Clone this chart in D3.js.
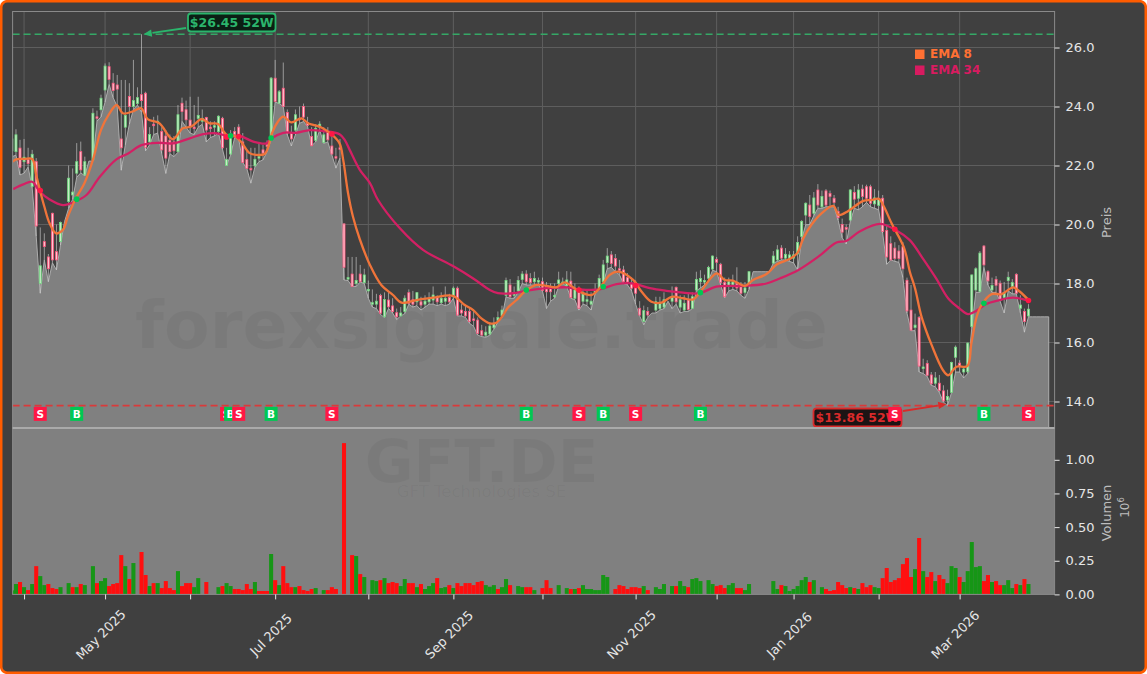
<!DOCTYPE html>
<html><head><meta charset="utf-8">
<script src="https://cdn.jsdelivr.net/npm/d3@7/dist/d3.min.js"></script>
<style>html,body{margin:0;padding:0;background:#fff;overflow:hidden}svg{display:block;font-family:"DejaVu Sans",sans-serif}</style>
</head><body><div id="c"></div>
<script>
// every series starts at bar -1 (clipped at the left edge of the plot)
const opens = [
22.5,22.47,22.59,22.13,22.2,21.29,22.13,18.0,19.42,18.9,
20.38,19.08,19.42,20.1,20.78,21.0,21.74,22.47,21.68,22.15,
22.19,23.65,23.89,24.56,25.35,24.79,24.73,22.9,23.3,24.34,
24.0,24.1,24.4,24.45,22.8,23.4,23.45,23.15,23.0,22.85,
22.8,22.47,24.11,23.89,23.54,23.3,23.6,23.5,23.63,23.3,
23.3,23.15,23.6,22.0,22.39,23.15,23.3,22.8,22.2,21.9,
21.99,22.25,22.53,22.7,22.92,24.96,24.11,24.62,23.8,23.1,
23.2,23.6,24.0,23.45,22.98,22.85,23.3,22.78,23.12,22.66,
22.3,22.6,20.02,18.2,18.32,18.0,18.32,18.03,17.75,17.3,
17.3,17.59,16.87,17.44,17.24,17.01,16.9,17.05,17.69,17.45,
17.38,17.38,17.3,17.38,17.44,17.53,17.35,17.4,17.53,17.55,
17.84,17.1,17.05,17.05,16.8,16.76,16.4,16.25,16.29,16.5,
16.75,16.9,17.6,17.95,17.6,17.75,18.14,18.32,18.17,18.06,
18.1,18.06,17.91,17.87,17.6,18.0,18.05,17.92,18.08,17.5,
17.72,17.4,17.4,17.3,17.7,17.84,18.06,18.71,18.97,18.85,
18.5,18.46,18.2,18.0,17.97,17.16,16.71,17.05,17.0,17.1,
17.15,17.2,17.4,17.4,17.87,17.2,17.1,17.44,17.16,17.78,
18.06,18.05,18.18,18.49,18.82,18.65,18.04,17.9,17.95,18.0,
17.95,17.7,18.0,18.4,18.4,18.4,18.4,18.4,18.69,18.8,
19.2,18.86,18.86,18.86,19.0,19.59,20.32,20.66,20.38,21.17,
20.6,21.14,21.05,20.89,20.44,20.0,19.9,20.15,21.09,20.89,
21.2,21.28,21.28,20.7,20.65,20.89,19.8,19.35,19.2,19.1,
19.25,18.11,17.1,16.51,16.85,15.12,15.29,14.9,14.62,14.62,
14.36,14.05,14.31,15.5,15.3,15.0,15.01,16.54,17.78,17.73,
19.27,18.4,17.78,18.14,18.01,17.53,18.1,17.9,18.31,17.16,
17.05,16.9];
const highs = [
23.0,23.23,22.87,22.9,22.6,22.53,22.25,19.9,19.7,19.0,
20.4,20.0,20.1,20.1,22.0,21.9,22.76,22.81,22.3,22.15,
23.94,23.86,24.4,25.46,25.5,25.13,25.07,24.9,24.9,24.79,
25.58,24.65,26.45,24.5,23.3,23.65,23.7,23.3,23.2,23.05,
23.0,24.05,24.3,24.2,24.33,24.05,24.33,23.9,23.65,23.5,
23.5,23.7,23.65,22.6,23.2,23.3,23.4,23.1,22.5,22.6,
22.6,22.75,22.7,22.85,25.0,25.58,24.56,25.49,23.9,23.35,
23.9,24.0,24.1,23.65,23.3,23.4,23.5,23.3,23.3,23.1,
22.6,22.9,20.05,18.9,18.9,18.9,18.63,18.5,18.1,17.8,
17.65,17.65,17.7,17.7,17.5,17.15,17.2,17.6,17.8,17.75,
17.7,17.55,17.6,17.7,17.9,17.6,17.7,17.9,17.65,17.9,
17.9,17.3,17.25,17.2,17.1,16.85,16.6,16.55,16.65,16.85,
17.05,17.25,18.2,18.15,17.9,18.25,18.42,18.45,18.35,18.4,
18.2,18.2,18.05,18.0,18.0,18.4,18.2,18.42,18.4,18.0,
17.9,17.8,17.75,17.7,18.0,18.3,18.8,19.2,19.1,19.0,
18.8,18.6,18.35,18.2,18.1,17.4,17.25,17.2,17.0,17.55,
17.55,17.7,17.4,17.9,17.9,17.6,17.6,17.65,17.7,18.4,
18.45,18.3,18.6,18.95,18.9,18.7,18.2,18.2,18.3,18.55,
18.05,18.05,18.4,18.4,18.4,18.4,18.4,18.4,19.1,19.3,
19.3,19.2,19.1,19.1,19.6,20.15,20.75,21.0,21.1,21.37,
21.15,21.2,21.15,21.0,20.6,20.2,20.0,21.2,21.3,21.37,
21.35,21.35,21.35,21.2,21.15,21.0,19.95,19.6,19.4,19.3,
19.4,18.2,17.95,16.98,16.9,15.45,15.4,15.0,15.0,14.9,
14.55,14.4,15.35,15.9,15.4,15.2,16.0,18.3,18.55,19.1,
19.3,18.45,18.2,18.25,18.1,18.05,18.4,18.15,18.35,17.6,
17.15,17.3];
const lows = [
22.3,22.35,21.68,21.74,21.95,21.25,19.6,17.67,18.8,18.06,
18.7,18.46,19.3,20.1,20.55,20.85,21.6,21.75,21.65,22.15,
22.15,23.5,23.65,24.15,24.75,24.3,24.0,21.84,22.7,23.4,
23.9,24.05,23.8,22.5,22.7,23.05,23.1,22.4,21.73,22.4,
22.3,22.45,23.5,23.3,23.1,23.05,23.3,23.4,22.8,22.95,
23.0,23.1,22.55,22.0,22.35,22.95,22.9,22.1,21.9,21.4,
21.95,22.13,22.19,22.47,22.87,24.15,24.1,24.0,23.04,22.66,
23.04,23.43,23.49,23.32,22.67,22.8,23.2,22.75,22.8,22.36,
21.91,22.25,18.12,18.1,17.9,17.9,18.05,18.0,17.5,17.2,
17.15,16.95,16.85,17.15,17.0,16.78,16.9,16.98,17.3,17.2,
17.25,17.1,17.2,17.3,17.3,17.25,17.3,17.25,17.3,17.5,
16.9,16.9,16.85,16.65,16.55,16.25,16.2,16.18,16.25,16.45,
16.7,16.85,17.55,17.5,17.5,17.7,18.0,17.95,17.95,17.95,
17.95,17.75,17.15,17.4,17.5,17.9,18.0,17.9,17.5,17.45,
17.1,17.3,17.25,17.1,17.65,17.8,18.0,18.5,18.55,18.4,
18.3,18.0,17.95,17.75,17.3,16.9,16.6,16.85,17.0,17.0,
17.1,17.15,17.4,17.15,17.3,17.0,17.05,17.05,17.15,17.75,
17.85,17.95,18.1,18.45,18.4,17.95,17.52,17.75,17.8,17.75,
17.6,17.5,17.8,18.4,18.4,18.4,18.4,18.4,18.69,18.75,
18.8,18.8,18.75,18.7,18.46,19.5,19.99,20.0,20.3,20.55,
20.55,20.6,20.6,20.6,20.15,19.55,19.34,20.1,20.55,20.5,
20.6,20.75,20.6,20.55,20.5,19.7,18.65,18.8,18.75,18.72,
18.2,17.0,16.4,16.4,15.0,14.95,14.85,14.55,14.5,14.3,
13.98,13.86,14.3,15.0,15.0,14.8,14.95,16.5,17.7,17.7,
18.55,17.95,17.7,17.7,17.4,17.0,17.75,17.65,17.65,17.0,
16.35,16.87];
const closes = [
22.9,23.04,21.94,22.28,22.07,22.38,19.95,18.6,19.25,18.5,
18.8,18.8,20.07,20.1,21.57,21.1,22.13,21.85,22.13,22.15,
23.77,23.6,24.28,25.37,24.92,24.54,24.59,22.6,23.7,24.0,
24.2,24.3,24.2,22.62,23.05,23.35,23.5,22.53,22.25,22.47,
22.5,23.72,23.83,23.55,23.32,23.25,23.7,23.6,23.2,23.25,
23.35,23.67,22.6,22.2,23.0,23.05,23.0,22.1,21.9,21.85,
22.21,22.3,22.42,22.65,24.96,24.17,24.5,24.0,23.1,22.9,
23.72,23.55,23.64,23.36,22.67,23.26,23.4,23.04,22.87,22.39,
22.25,22.55,18.55,18.2,17.9,18.1,18.06,18.29,17.8,17.35,
17.4,16.99,17.46,17.21,17.05,16.87,17.0,17.5,17.33,17.3,
17.69,17.27,17.4,17.5,17.61,17.38,17.5,17.5,17.38,17.84,
16.93,17.0,16.9,16.71,16.75,16.31,16.25,16.35,16.56,16.65,
16.85,17.1,18.1,17.55,17.65,18.1,18.32,18.06,18.03,18.17,
18.1,17.76,17.72,17.72,17.6,18.12,18.05,18.12,17.52,17.78,
17.16,17.65,17.45,17.4,17.8,18.17,18.63,18.93,18.68,18.59,
18.45,18.06,18.05,17.84,17.67,16.93,17.08,16.93,17.0,17.38,
17.35,17.45,17.4,17.55,17.38,17.45,17.33,17.12,17.55,18.14,
18.17,18.1,18.54,18.93,18.72,18.04,17.55,18.06,18.05,17.85,
17.67,17.85,18.4,18.4,18.4,18.4,18.4,18.4,18.93,19.14,
18.86,18.99,18.97,18.97,19.39,20.1,20.72,20.27,20.9,20.66,
20.95,20.66,20.95,20.75,20.23,19.74,19.84,21.17,20.86,21.17,
20.95,20.89,20.72,20.9,20.85,19.76,18.9,18.8,18.85,18.85,
18.5,17.07,16.42,16.59,15.2,15.17,14.89,14.6,14.8,14.37,
14.02,14.17,15.32,15.84,15.2,15.1,15.98,18.29,18.5,19.03,
18.63,18.09,17.93,17.94,17.42,17.69,18.21,18.03,17.67,17.27,
16.71,17.13];
// millions of shares; positive = green bar, negative = red bar, 0 = no bar
const signedVolumes = [
.03,.077,-.092,.054,-.032,.077,-.21,.136,.069,-.077,
-.047,-.04,.054,0,.084,-.054,.054,-.077,.069,0,
.21,-.084,.099,.121,-.062,-.077,-.084,-.292,.21,-.114,
.233,0,-.315,-.144,.062,-.084,.084,-.047,-.099,-.047,
-.032,.173,-.062,-.084,-.084,.054,.121,0,-.092,0,
0,.054,-.062,.084,.062,-.04,-.04,-.032,-.077,-.04,
.092,-.025,-.025,-.025,.3,-.106,.069,-.21,-.084,-.054,
.054,-.062,-.032,-.025,-.04,.047,0,.032,-.032,-.054,
-.04,0,-1.124,0,-.292,.285,-.151,.129,0,.106,
.099,-.106,.121,-.084,-.092,-.084,.062,.114,-.084,-.084,
.054,-.077,.04,.062,.084,-.121,.047,.054,-.069,.047,
-.084,-.062,-.084,-.084,-.069,-.092,-.099,.069,.057,.069,
-.04,.054,.114,-.069,0,.062,.054,-.054,-.054,.032,
0,-.047,-.106,-.047,0,.069,0,.047,-.04,.04,
-.047,.069,.04,.04,.032,.032,.144,.129,0,-.04,
-.069,-.062,-.04,-.054,-.054,-.047,.062,-.032,0,.054,
.04,.077,0,.062,-.062,.099,.062,-.054,.114,.121,
.099,0,.106,.077,-.062,-.069,-.047,.069,.084,-.047,
-.047,.032,.077,0,0,0,0,0,.099,.04,
-.069,.062,.025,.04,.062,.106,.129,-.092,.106,0,
.054,-.04,-.025,-.032,-.092,-.069,-.047,.054,-.047,.04,
-.084,-.054,-.069,.054,.047,-.121,-.196,-.092,-.106,-.121,
-.225,-.27,-.129,.188,-.419,.173,-.129,-.166,.099,-.144,
-.114,.084,.21,.196,-.129,.092,.173,.389,.203,.21,
-.099,-.144,.092,-.099,-.069,.069,.106,.047,-.077,.069,
-.114,.077];
// the shaded area keeps running past the last bar at the last reading
const areaTail = [16.87,16.87,16.87,16.87,16.87];

const ema8Bars = [-.8,0,2.1,4,5,6,7,8.3,9.9,11.6,12.8,14.8,16.9,19,21,23.1,24.9,26.4,28.8,30.9,32.5,35.4,38.7,41.2,43.3,45.8,47.8,49.9,52,54,55.7,57.7,59.4,61.4,62.2,63.2,64.7,66,68,70.5,72.1,73.4,75.4,77.8,79.9,80.8,82,83.2,84.9,87.4,90.2,93.1,95.2,98.9,103,107.9,110.8,112.9,114.9,117,118.6,120.3,121.5,123.6,125.6,128.5,131,133.4,135.5,137.1,139.2,142.1,144.1,146.6,148.7,152.4,154.5,156.9,159.4,161.9,164.7,167.2,169.3,173,175,177,180,182,185.3,187.9,191,192.9,194.4,196.4,198.9,201.8,203.2,205.5,209.2,211.2,213.1,214.3,216.2,219.3,220.7,222,223.6,226.1,228.9,230.2,232.2,234.9,235.9,237.2,238.4,240.9,243.4,246.2,247.9,250.2];
const ema8Values = [22.13,22.21,22.22,22.22,21.68,21.12,20.61,20.04,19.7,19.82,20.27,20.89,21.4,22.19,23.21,23.77,24.05,23.77,23.83,23.94,23.57,23.43,22.89,23.26,23.32,23.57,23.43,23.41,23.04,23.0,22.78,22.42,22.36,22.39,22.59,23.09,23.49,23.66,23.46,23.6,23.43,23.38,23.29,23.07,22.75,22.19,21.06,20.27,19.5,18.63,17.95,17.61,17.35,17.44,17.52,17.58,17.27,17.1,16.82,16.65,16.67,16.93,17.19,17.44,17.72,17.95,17.92,17.87,18.04,17.92,17.72,17.61,17.84,18.29,18.4,18.12,17.72,17.38,17.35,17.55,17.5,17.46,17.78,18.34,18.12,18.1,17.92,18.12,18.32,18.65,18.83,19.03,19.53,19.99,20.38,20.63,20.32,20.46,20.8,20.83,20.87,20.61,20.04,19.2,18.4,17.83,16.87,15.91,15.06,14.89,15.18,15.2,15.97,16.87,17.27,17.64,17.64,17.87,17.72,17.41];
const ema34Bars = [-.7,1.8,4,5.9,8.3,11.6,14.5,17.4,20.7,24.8,27.7,31,35.1,38.8,42.9,46.2,49.5,52.8,55.3,58.6,61.8,63.1,66,69.3,72.5,75.8,79.9,81.2,82.4,84.9,87.4,89.4,94.8,100.5,107.9,112.9,117,119,122.7,126.2,131,135.9,139.2,144.1,148.3,152.4,156.5,160.6,164.7,168.8,172.9,179.9,185.3,188.6,193.2,198.1,202.6,205,208.3,213.3,217.4,220.7,223.9,227.2,230.2,233,235.1,236.7,239.5,242.1,246.2,250.2];
const ema34Values = [21.2,21.36,21.45,21.11,20.85,20.66,20.77,21.0,21.62,22.21,22.41,22.69,22.77,22.75,22.92,23.06,23.09,22.98,23.0,22.81,22.75,22.92,23.11,23.11,23.2,23.17,23.06,22.86,22.53,21.85,21.4,20.83,19.87,19.14,18.59,18.17,17.78,17.67,17.67,17.76,17.84,17.87,17.8,17.8,17.98,18.0,17.84,17.75,17.69,17.67,17.89,17.92,18.0,18.17,18.46,18.91,19.39,19.44,19.76,20.02,19.8,19.47,18.85,18.17,17.49,17.15,16.96,17.04,17.3,17.41,17.52,17.41];

const signalTypes  = ["S","B","S","B","S","B","S","B","S","B","S","B","S","B","S"];
const signalBars   = [6,15,52,53,55,63,78,126,139,145,153,169,217,239,250];
const signalPrices = [21.15,20.86,22.97,23.01,22.98,22.93,23.07,17.78,17.78,17.89,17.93,17.69,19.84,17.33,17.42];

const tickBars   = [2,22,43,64,87,108,130,153,173,192,213,233];
const tickLabels = ["","May 2025","","Jul 2025","","Sep 2025","","Nov 2025","","Jan 2026","","Mar 2026"];
const priceTicks = [14,16,18,20,22,24,26];
const volumeTicks = [0,.25,.5,.75,1];
const high52 = 26.45, low52 = 13.86, low52Bar = 230, high52Bar = 31;
const legendNames = ["EMA 8","EMA 34"];
const legendColors = ["#ff7033","#d81b60"];

const W=1147,H=674,L=12.6,R=1054.6,T=11.5,PB=428,VB=594.4;
const x=d3.scaleLinear().domain([-.83,256.45]).range([L,R]);
const y=d3.scaleLinear().domain([14,26]).range([401.5,47.5]);
const v=d3.scaleLinear().domain([0,1]).range([VB,459.8]);
const barsIdx=closes.map((_,k)=>k-1);

const svg=d3.select("#c").append("svg").attr("width",W).attr("height",H);
svg.append("rect").attr("x",1.2).attr("y",1.2).attr("width",W-2.4).attr("height",H-2.4).attr("rx",6)
  .attr("fill","#404040").attr("stroke","#ff5c00").attr("stroke-width",2.6);
const defs=svg.append("defs");
defs.append("clipPath").attr("id","pc").append("rect").attr("x",L).attr("y",T).attr("width",R-L).attr("height",PB-T);
defs.append("clipPath").attr("id","vc").append("rect").attr("x",L).attr("y",PB).attr("width",R-L).attr("height",VB-PB);

// grid
const grid=svg.append("g").attr("stroke","#5e5e5e").attr("stroke-width",1);
grid.selectAll("line.h").data(priceTicks).join("line").attr("x1",L).attr("x2",R).attr("y1",d=>y(d)).attr("y2",d=>y(d));
grid.selectAll("line.v").data(tickBars).join("line").attr("x1",d=>x(d)).attr("x2",d=>x(d)).attr("y1",T).attr("y2",PB);

const pg=svg.append("g").attr("clip-path","url(#pc)");
// area on the lows
const areaVals=lows.map((d,k)=>[k-1,d]).concat(areaTail.map((d,k)=>[lows.length-1+k,d]));
pg.append("path").attr("d",d3.area().x(d=>x(d[0])).y0(PB).y1(d=>y(d[1]))(areaVals))
  .attr("fill","#808080");
pg.append("path").attr("d",d3.line().x(d=>x(d[0])).y(d=>y(d[1]))(areaVals.concat([[areaVals[areaVals.length-1][0],y.invert(PB)]])))
  .attr("fill","none").attr("stroke","#b4b4b4").attr("stroke-width",.9);

// candles
const cg=pg.append("g");
const bw=2;
barsIdx.forEach((i,k)=>{
  const o=opens[k],c=closes[k],h=highs[k],l=lows[k];
  if(h===l) return;
  const up=c>=o;
  cg.append("line").attr("x1",x(i)).attr("x2",x(i)).attr("y1",y(h)).attr("y2",y(l))
    .attr("stroke","#cfcfcf").attr("stroke-width",.9).attr("opacity",.7);
  const top=Math.min(y(o),y(c)),ht=Math.max(1.5,Math.abs(y(o)-y(c)));
  cg.append("rect").attr("x",x(i)-bw/2).attr("y",top).attr("width",bw).attr("height",ht)
    .attr("fill",up?"#c8ecc8":"#ffc8d2").attr("stroke",up?"#6fd87f":"#f9557c").attr("stroke-width",.8);
});

// 52 week lines
svg.append("line").attr("x1",L).attr("x2",R).attr("y1",y(high52)).attr("y2",y(high52))
  .attr("stroke","#35a866").attr("stroke-width",1.7).attr("stroke-dasharray","7 4");
svg.append("line").attr("x1",L).attr("x2",R).attr("y1",y(low52)).attr("y2",y(low52))
  .attr("stroke","#d93a3a").attr("stroke-width",1.7).attr("stroke-dasharray","7 4");

// EMA lines
const eline=d3.line().x(d=>x(d[0])).y(d=>y(d[1])).curve(d3.curveCatmullRom.alpha(.5));
pg.append("path").attr("d",eline(ema34Bars.map((b,k)=>[b,ema34Values[k]]))).attr("fill","none").attr("stroke","#d32064").attr("stroke-width",2.3);
pg.append("path").attr("d",eline(ema8Bars.map((b,k)=>[b,ema8Values[k]]))).attr("fill","none").attr("stroke","#f0743a").attr("stroke-width",2.3);

// volume panel
svg.append("rect").attr("x",L).attr("y",PB).attr("width",R-L).attr("height",VB-PB).attr("fill","#808080");
svg.append("g").attr("clip-path","url(#vc)").selectAll("rect").data(signedVolumes.map((d,k)=>[k-1,d]).filter(d=>d[1]!==0)).join("rect")
  .attr("x",d=>x(d[0])-2.02).attr("width",4.05).attr("y",d=>v(Math.abs(d[1]))).attr("height",d=>VB-v(Math.abs(d[1])))
  .attr("fill",d=>d[1]>0?"#169616":"#ff0f0f");

// watermarks
const wm=svg.append("g").attr("fill","#000").attr("fill-opacity",.045).attr("text-anchor","middle");
wm.append("text").attr("x",481.5).attr("y",348).attr("font-size",66.5).attr("font-weight","bold").text("forexsignale.trade");
wm.append("text").attr("x",481.5).attr("y",482).attr("font-size",59.5).attr("font-weight","bold").text("GFT.DE");
wm.append("text").attr("x",481.5).attr("y",497).attr("font-size",16.5).text("GFT Technologies SE");

// annotation boxes
function note(bx,by,bw2,bh,txt,col,fill){
  svg.append("rect").attr("x",bx).attr("y",by).attr("width",bw2).attr("height",bh).attr("rx",3)
    .attr("fill",fill).attr("stroke",col).attr("stroke-width",1.8);
  svg.append("text").attr("x",bx+bw2/2).attr("y",by+bh/2+4.5).attr("text-anchor","middle").attr("font-size",12.5).attr("font-weight","bold").attr("fill",col).text(txt);
}
function arrow(x1,y1,x2,y2,col){
  const a=Math.atan2(y2-y1,x2-x1),s=9;
  svg.append("line").attr("x1",x1).attr("y1",y1).attr("x2",x2-Math.cos(a)*s).attr("y2",y2-Math.sin(a)*s).attr("stroke",col).attr("stroke-width",1.8);
  const p=[[x2,y2],[x2-s*Math.cos(a-.42),y2-s*Math.sin(a-.42)],[x2-s*Math.cos(a+.42),y2-s*Math.sin(a+.42)]];
  svg.append("path").attr("d",d3.line()(p)+"Z").attr("fill",col);
}
note(188,13.5,87.5,18,"$"+high52.toFixed(2)+" 52W","#2bb56c","#0b1f14");
arrow(186,28,x(high52Bar)+2,y(high52),"#2bb56c");
note(813.5,408.5,88,18,"$"+low52.toFixed(2)+" 52W","#d92a2a","#1c1414");
arrow(903,411,x(low52Bar)-1,y(low52)-1.5,"#d92a2a");

// signal dots and markers
const markerPrice=13.58;
svg.append("g").selectAll("circle").data(signalBars.map((b,k)=>k)).join("circle")
  .attr("cx",k=>x(signalBars[k])).attr("cy",k=>y(signalPrices[k])).attr("r",2.8)
  .attr("fill",k=>signalTypes[k]==="S"?"#ff1744":"#00c853");
const mg=svg.append("g").selectAll("g").data(signalBars.map((b,k)=>k)).join("g")
  .attr("transform",k=>`translate(${x(signalBars[k])},${y(markerPrice)})`);
mg.append("rect").attr("x",-6.5).attr("y",-7).attr("width",13).attr("height",14)
  .attr("fill",k=>signalTypes[k]==="S"?"#ff1744":"#00c853");
mg.append("text").attr("text-anchor","middle").attr("y",4).attr("font-size",10.5).attr("font-weight","bold").attr("fill","#fff").text(k=>signalTypes[k]);

// frame
svg.append("rect").attr("x",L).attr("y",T).attr("width",R-L).attr("height",VB-T).attr("fill","none").attr("stroke","#8a8a8a").attr("stroke-width",1);
svg.append("line").attr("x1",L).attr("x2",R).attr("y1",PB).attr("y2",PB).attr("stroke","#aaaaaa").attr("stroke-width",2);

// axes
function style(g){
  g.select(".domain").remove();
  g.selectAll(".tick line").attr("stroke","#e6e6e6").attr("stroke-width",1);
  g.selectAll(".tick text").attr("fill","#e6e6e6").attr("font-size",13).attr("font-family","DejaVu Sans");
}
svg.append("g").attr("transform",`translate(${R},0)`).call(d3.axisRight(y).tickValues(priceTicks).tickFormat(d3.format(".1f")).tickSize(5).tickPadding(6)).call(style);
svg.append("g").attr("transform",`translate(${R},0)`).call(d3.axisRight(v).tickValues(volumeTicks).tickFormat(d3.format(".2f")).tickSize(5).tickPadding(6)).call(style);
const xa=svg.append("g").attr("transform",`translate(0,${VB})`).call(d3.axisBottom(x).tickValues(tickBars).tickFormat((d,i)=>tickLabels[i]).tickSize(5)).call(style);
xa.selectAll(".tick text").attr("text-anchor","middle").attr("dy",0).attr("y",0).attr("transform","translate(-1.5,43.5) rotate(-45)");

// axis titles
svg.append("text").attr("transform","translate(1110.5,222.5) rotate(-90)").attr("text-anchor","middle").attr("font-size",13).attr("fill","#bdbdbd").text("Preis");
svg.append("text").attr("transform","translate(1110.5,513) rotate(-90)").attr("text-anchor","middle").attr("font-size",13).attr("fill","#bdbdbd").text("Volumen");
const ex=svg.append("text").attr("transform","translate(1128.5,507.5) rotate(-90)").attr("text-anchor","middle").attr("font-size",12).attr("fill","#bdbdbd");
ex.append("tspan").text("10");
ex.append("tspan").attr("dy",-5).attr("font-size",8.5).text("6");

// legend
const lg=svg.append("g").selectAll("g").data(legendNames).join("g").attr("transform",(d,k)=>`translate(915,${54+16*k})`);
lg.append("rect").attr("x",0).attr("y",-4.5).attr("width",9.5).attr("height",9.5).attr("fill",(d,k)=>legendColors[k]);
lg.append("text").attr("x",15).attr("y",4).attr("font-size",12).attr("font-weight","bold").attr("fill",(d,k)=>legendColors[k]).text(d=>d);
</script></body></html>
